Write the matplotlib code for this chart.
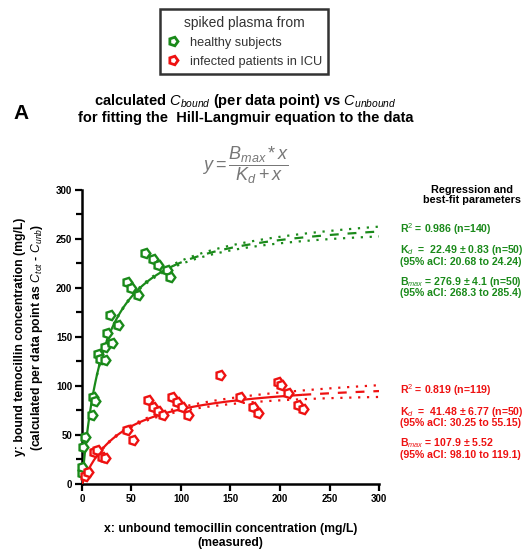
import numpy as np
import matplotlib
matplotlib.use('Agg')
from matplotlib import pyplot as plt

GREEN = '#1a8a1a'
RED = '#ee1111'
NARROW = ['Liberation Sans', 'DejaVu Sans']
plt.rcParams['mathtext.fontset'] = 'custom'
plt.rcParams['mathtext.rm'] = 'Liberation Sans'
plt.rcParams['mathtext.it'] = 'Liberation Sans:italic'
plt.rcParams['mathtext.bf'] = 'Liberation Sans:bold'

# spiked plasma from healthy subjects: unbound (x) vs bound (y), mg/L
healthy_x = [0.0, 0.5, 1.3, 3.0, 9.8, 11.4, 13.0, 16.5, 18.0, 23.0, 23.0, 25.0, 28.0,
             30.0, 36.7, 45.0, 50.0, 57.0, 63.6, 72.0, 77.0, 85.5, 89.0]
healthy_y = [11.0, 17.7, 38.0, 48.0, 70.0, 89.0, 85.0, 133.0, 128.0, 126.5, 140.0, 154.0, 172.0,
             143.6, 162.0, 206.0, 200.0, 193.0, 236.0, 230.0, 223.0, 218.0, 211.5]

# spiked plasma from infected patients in ICU
icu_x = [3.0, 6.0, 12.0, 15.0, 20.0, 23.0, 45.0, 52.0, 67.0, 72.0, 77.0, 82.0, 90.6, 95.6,
         100.7, 107.0, 139.0, 160.0, 173.0, 178.0, 198.0, 201.5, 208.0, 218.5, 223.5]
icu_y = [8.0, 12.5, 33.0, 35.0, 28.0, 26.0, 55.0, 45.0, 86.0, 79.0, 74.0, 70.0, 89.0, 84.0,
         79.0, 70.0, 111.0, 89.0, 79.0, 72.0, 104.0, 101.0, 92.5, 80.6, 76.0]

# best-fit Hill-Langmuir parameters (Bmax, Kd), fitted x-range, band half-width at x=300
healthy_fit = (276.9, 22.49, 92.0, 5.0)
icu_fit = (107.9, 41.48, 222.0, 6.0)


def langmuir(x, bmax, kd):
    return bmax * x / (kd + x)


fig = plt.figure(figsize=(5.3, 5.54), dpi=100)
ax = fig.add_axes([0.1547, 0.1264, 0.5604, 0.5307])

marker = (5, 0, -90)
xs = np.linspace(0, 300, 400)
for xv, yv, fit, color in [(healthy_x, healthy_y, healthy_fit, GREEN),
                           (icu_x, icu_y, icu_fit, RED)]:
    bmax, kd, xmax, band = fit
    curve = langmuir(xs, bmax, kd)
    inside = xs <= xmax
    ax.plot(xs[inside], curve[inside], color=color, lw=1.6, zorder=3)
    ax.plot(xs[~inside], curve[~inside], color=color, lw=1.6, ls=(0, (4, 4)), zorder=3)
    for sign in (-1, 1):
        ax.plot(xs[xs > 15], (curve + sign * band * xs / 300)[xs > 15], color=color,
                lw=1.6, ls=(0, (1, 3)), zorder=3)
    ax.plot(xv, yv, ls='none', marker=marker, ms=7, mfc='white', mec=color, mew=1.7,
            zorder=4, clip_on=False)

ax.set_xlim(0, 300)
ax.set_ylim(0, 300)
ax.set_xticks(np.arange(0, 301, 50))
ax.set_yticks(np.arange(0, 301, 50))
ax.set_yticks(np.arange(25, 300, 50), minor=True)
for side in ('top', 'right'):
    ax.spines[side].set_visible(False)
for side in ('left', 'bottom'):
    ax.spines[side].set_linewidth(1.8)
ax.tick_params(width=1.6, length=5, labelsize=7, pad=2)
ax.tick_params(which='minor', width=1.6, length=4)
for lab in ax.get_xticklabels() + ax.get_yticklabels():
    lab.set_fontweight('bold')
    lab.set_family(NARROW)

ax.set_xlabel('x: unbound temocillin concentration (mg/L)\n(measured)',
              fontsize=8.8, fontweight='bold', family=NARROW, labelpad=14, linespacing=1.25)
ax.set_ylabel('y: bound temocillin concentration (mg/L)\n'
              '(calculated per data point as $C_{tot}$ - $C_{unb}$)',
              fontsize=8.8, fontweight='bold', family=NARROW, labelpad=8, linespacing=1.25)

# panel letter, title and model equation
fig.text(0.025, 0.795, 'A', fontsize=15, fontweight='bold', va='center', family=NARROW)
fig.text(0.463, 0.818, r'calculated $C_{bound}$ (per data point) vs $C_{unbound}$',
         ha='center', va='center', fontsize=10.5, fontweight='bold', family=NARROW)
fig.text(0.463, 0.787, 'for fitting the  Hill-Langmuir equation to the data',
         ha='center', va='center', fontsize=10.5, fontweight='bold', family=NARROW)
fig.text(0.463, 0.702, r'$y = \dfrac{B_{max} * x}{K_d + x}$', ha='center', va='center',
         fontsize=13, color='#777777')

# regression summary on the right
fig.text(0.89, 0.648, 'Regression and\nbest-fit parameters', ha='center', va='center',
         fontsize=7.8, fontweight='bold', family=NARROW, linespacing=1.1)
green_lines = [(0.587, 'R$^2$ = 0.986 (n=140)'),
               (0.548, 'K$_d$  =  22.49 ± 0.83 (n=50)'),
               (0.527, '(95% aCI: 20.68 to 24.24)'),
               (0.491, 'B$_{max}$ = 276.9 ± 4.1 (n=50)'),
               (0.471, '(95% aCI: 268.3 to 285.4)')]
red_lines = [(0.296, 'R$^2$ = 0.819 (n=119)'),
             (0.256, 'K$_d$  =  41.48 ± 6.77 (n=50)'),
             (0.236, '(95% aCI: 30.25 to 55.15)'),
             (0.200, 'B$_{max}$ = 107.9 ± 5.52'),
             (0.179, '(95% aCI: 98.10 to 119.1)')]
for lines, color in [(green_lines, GREEN), (red_lines, RED)]:
    for y, txt in lines:
        fig.text(0.754, y, txt, ha='left', va='center', fontsize=7.6,
                 fontweight='bold', color=color, family=NARROW)

# legend box at the top
handles = [plt.Line2D([], [], ls='none', marker=marker, ms=6.5, mfc='white', mec=c, mew=2)
           for c in (GREEN, RED)]
leg = fig.legend(handles, ['healthy subjects', 'infected patients in ICU'],
                 title='spiked plasma from', loc='upper center', bbox_to_anchor=(0.461, 0.988),
                 fancybox=False, edgecolor='black', handletextpad=0.8, borderpad=0.5,
                 labelspacing=0.55, handlelength=1.0, borderaxespad=0.2,
                 prop={'family': NARROW, 'size': 9.2},
                 title_fontproperties={'family': NARROW, 'size': 10})
leg.get_frame().set_linewidth(1.8)
for t in leg.get_texts():
    t.set_color('#333333')
leg.get_title().set_color('#333333')

fig.savefig('out.png', dpi=100)
